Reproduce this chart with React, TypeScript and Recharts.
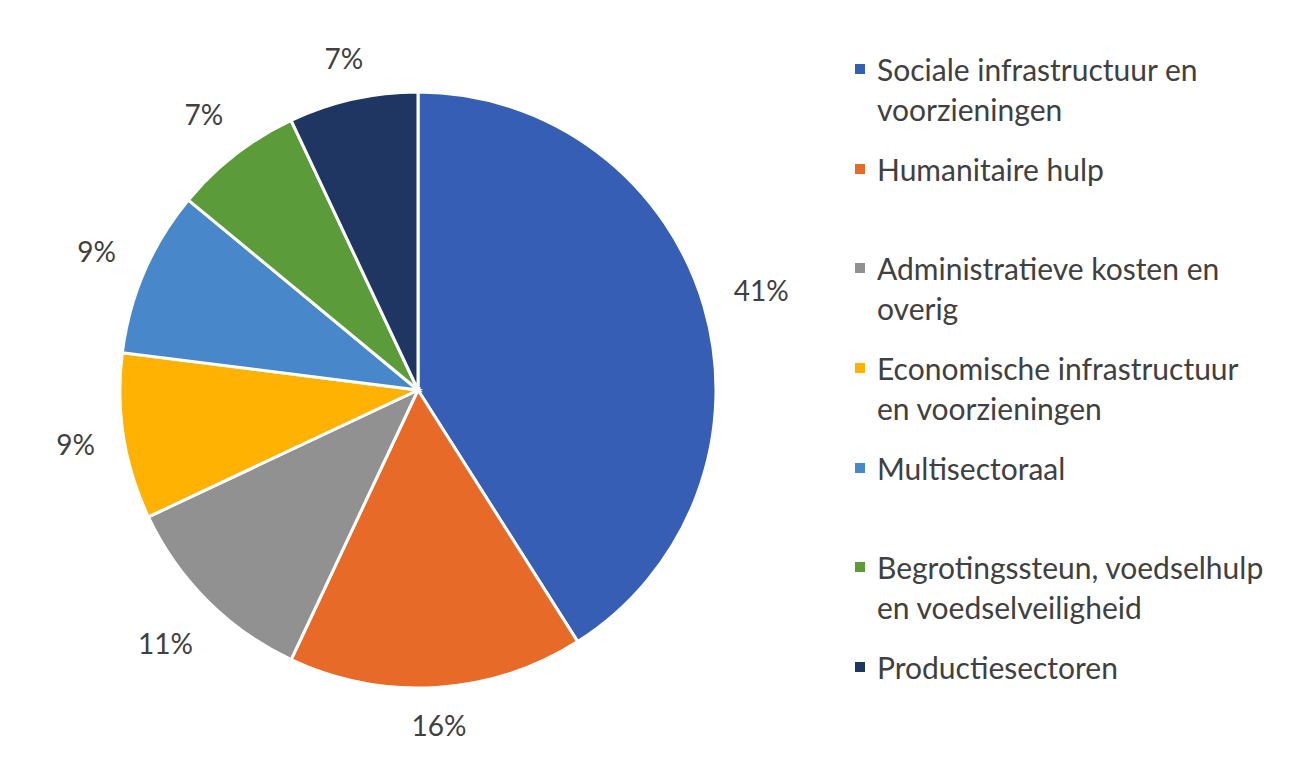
import React from 'react';
import { PieChart, Pie, Cell, Legend } from 'recharts';

const sectors = [
  'Sociale infrastructuur en voorzieningen',
  'Humanitaire hulp',
  'Administratieve kosten en overig',
  'Economische infrastructuur en voorzieningen',
  'Multisectoraal',
  'Begrotingssteun, voedselhulp en voedselveiligheid',
  'Productiesectoren',
];
const legendLines = [
  ['Sociale infrastructuur en', 'voorzieningen'],
  ['Humanitaire hulp'],
  ['Administratieve kosten en', 'overig'],
  ['Economische infrastructuur', 'en voorzieningen'],
  ['Multisectoraal'],
  ['Begrotingssteun, voedselhulp', 'en voedselveiligheid'],
  ['Productiesectoren'],
];
const shares = [41, 16, 11, 9, 9, 7, 7];
const colors = ['#365EB5', '#E86A28', '#919191', '#FFB202', '#4887CA', '#5C9B3A', '#1F3663'];

const data = sectors.map((name, i) => ({ name, value: shares[i] }));

const FONT = 'Lato, "Open Sans", sans-serif';
const RAD = Math.PI / 180;

// label box sits just outside the slice edge, like Excel's "outside end"
const renderLabel = (props: any) => {
  const { cx, cy, midAngle, outerRadius, value } = props;
  const txt = `${value}%`;
  const c = Math.cos(-midAngle * RAD);
  const s = Math.sin(-midAngle * RAD);
  const hw = txt.length * 9.2;
  const r = outerRadius + 27 + hw * Math.abs(c) + 8 * Math.abs(s) + 14 * Math.abs(c * s);
  return (
    <text
      x={cx + r * c}
      y={cy + r * s}
      textAnchor="middle"
      dominantBaseline="central"
      fill="#404040"
      fontSize={28}
      fontFamily={FONT}
    >
      {txt}
    </text>
  );
};

const renderLegend = () => (
  <div style={{ fontFamily: FONT, fontSize: 30, color: '#404040', lineHeight: '40px' }}>
    {legendLines.map((lines, i) => (
      <div key={i} style={{ position: 'relative', height: 99.7, paddingLeft: 25 }}>
        <span
          style={{
            position: 'absolute',
            left: 3,
            top: 15,
            width: 10,
            height: 10,
            background: colors[i],
          }}
        />
        {lines.map((l, j) => (
          <div key={j} style={{ whiteSpace: 'nowrap' }}>{l}</div>
        ))}
      </div>
    ))}
  </div>
);

export default function App() {
  return (
    <div style={{ position: 'absolute', left: 0, top: 0, background: '#fff' }}>
      <PieChart width={1299} height={779} margin={{ top: 0, right: 0, bottom: 0, left: 0 }}>
        <Pie
          data={data}
          dataKey="value"
          nameKey="name"
          cx={418}
          cy={390}
          outerRadius={298}
          startAngle={90}
          endAngle={-270}
          stroke="#ffffff"
          strokeWidth={3}
          label={renderLabel}
          labelLine={false}
          isAnimationActive={false}
        >
          {data.map((d, i) => (
            <Cell key={d.name} fill={colors[i]} />
          ))}
        </Pie>
        <Legend
          layout="vertical"
          align="right"
          verticalAlign="top"
          content={renderLegend}
          wrapperStyle={{ left: 852, top: 49, width: 440 }}
        />
      </PieChart>
    </div>
  );
}
